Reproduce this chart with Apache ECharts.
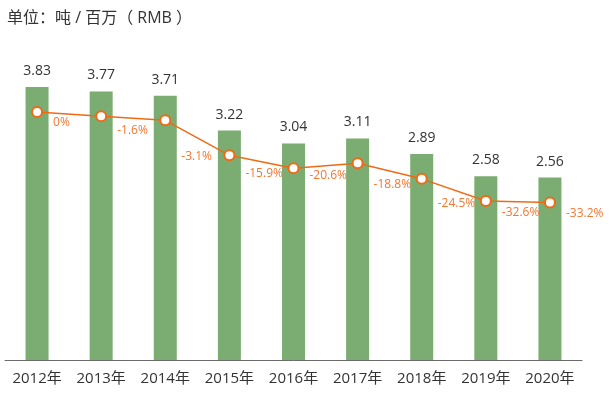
<!DOCTYPE html>
<html>
<head>
<meta charset="utf-8">
<script src="https://cdn.jsdelivr.net/npm/echarts@6/dist/echarts.min.js"></script>
<style>
  html, body { margin: 0; padding: 0; background: #fff; }
  #chart { width: 611px; height: 396px; }
</style>
</head>
<body>
<div id="chart"></div>
<script>
// 数据
const years = ['2012年', '2013年', '2014年', '2015年', '2016年', '2017年', '2018年', '2019年', '2020年'];
const tonPerMillion = [3.83, 3.77, 3.71, 3.22, 3.04, 3.11, 2.89, 2.58, 2.56];
const changeVs2012 = [0, -1.6, -3.1, -15.9, -20.6, -18.8, -24.5, -32.6, -33.2];

const FONT = '"Open Sans", "Noto Sans CJK SC", sans-serif';
// 百分比标签的纵向偏移（避开折线）
const pctLabelDy = [11, 14, 36, 18, 7, 21, 25, 12, 11];

const myChart = echarts.init(document.getElementById('chart'));
const option = {
  animation: false,
  textStyle: { fontFamily: FONT },
  title: {
    text: '单位：吨 / 百万（ RMB ）',
    left: 2,
    top: 5,
    textStyle: { fontSize: 16, fontWeight: 'normal', color: '#333', fontFamily: FONT },
  },
  grid: { left: 5, right: 29, top: 75, bottom: 36 },
  xAxis: {
    type: 'category',
    data: years,
    axisTick: { show: false },
    axisLine: { lineStyle: { color: '#6b6b6b', width: 1 } },
    axisLabel: { color: '#333', fontSize: 15, margin: 11, fontFamily: FONT },
  },
  yAxis: [
    { type: 'value', min: 0, max: 4, show: false, splitLine: { show: false } },
    { type: 'value', min: -90.8, max: 13.5, show: false, splitLine: { show: false } },
  ],
  series: [
    {
      name: '吨/百万',
      type: 'bar',
      data: tonPerMillion,
      barWidth: 23,
      itemStyle: { color: '#7bac71' },
      label: {
        show: true,
        position: 'top',
        distance: 9,
        color: '#333',
        fontSize: 14,
        fontFamily: FONT,
      },
    },
    {
      name: '较2012年',
      type: 'line',
      yAxisIndex: 1,
      data: changeVs2012.map((v, i) => ({ value: v, label: { offset: [0, pctLabelDy[i]] } })),
      symbol: 'circle',
      symbolSize: 10,
      lineStyle: { color: '#f06a16', width: 1.5 },
      itemStyle: { color: '#fff', borderColor: '#f06a16', borderWidth: 2 },
      label: {
        show: true,
        position: 'right',
        distance: 10,
        color: '#f4762f',
        fontSize: 12,
        fontFamily: FONT,
        formatter: (p) => p.value + '%',
      },
      z: 3,
    },
  ],
};
myChart.setOption(option);
</script>
</body>
</html>
